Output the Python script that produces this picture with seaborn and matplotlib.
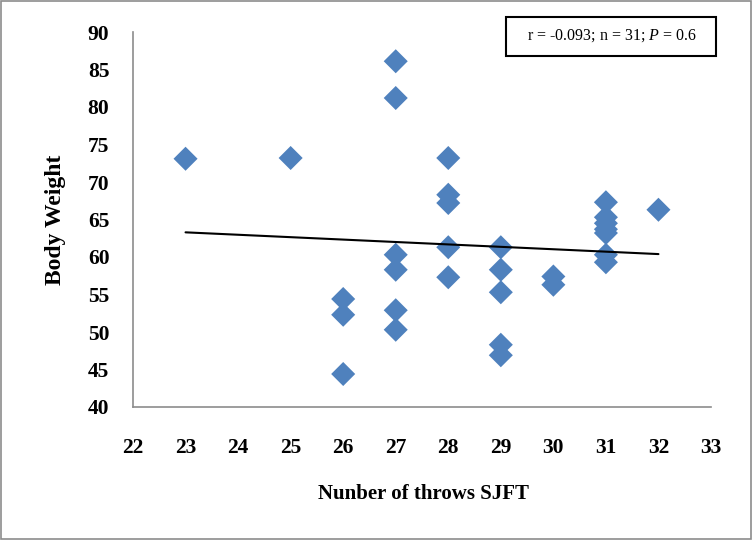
import numpy as np
import pandas as pd
import seaborn as sns
import matplotlib
matplotlib.use("Agg")
import matplotlib.pyplot as plt
from matplotlib.patches import Rectangle

throws = [23, 25,
          26, 26, 26,
          27, 27, 27, 27, 27, 27,
          28, 28, 28, 28, 28,
          29, 29, 29, 29, 29,
          30, 30,
          31, 31, 31, 31, 31, 31, 31,
          32]
weight = [73.1, 73.2,
          54.4, 52.3, 44.4,
          86.1, 81.2, 60.3, 58.3, 52.9, 50.3,
          73.2, 68.3, 67.2, 61.3, 57.3,
          61.3, 58.3, 55.3, 48.3, 46.9,
          57.4, 56.3,
          67.3, 65.3, 64.5, 63.7, 63.2, 60.3, 59.3,
          66.3]
x_ticks = list(range(22, 34))
y_ticks = list(range(40, 95, 5))
stats_text = r"r = -0.093; n = 31; $P$ = 0.6"

df = pd.DataFrame({"throws": throws, "weight": weight})

sns.set_style("white")
plt.rcParams["font.family"] = ["Liberation Serif", "DejaVu Serif"]
plt.rcParams["mathtext.fontset"] = "custom"
plt.rcParams["mathtext.rm"] = "Liberation Serif"
plt.rcParams["mathtext.it"] = "Liberation Serif:italic"
plt.rcParams["text.color"] = "black"
plt.rcParams["xtick.color"] = "black"
plt.rcParams["ytick.color"] = "black"

fig = plt.figure(figsize=(7.52, 5.4), dpi=100)
ax = fig.add_axes([133/752, 1-407/540, (711-133)/752, (407-32)/540])

sns.regplot(data=df, x="throws", y="weight", ax=ax, ci=None, truncate=True, marker="D",
            scatter_kws=dict(s=150, color="#4F81BD", edgecolors="none", linewidths=0,
                             alpha=1, zorder=2),
            line_kws=dict(color="black", lw=1.5, zorder=3))

ax.set_xlim(22, 33)
ax.set_ylim(40, 90)
ax.set_xticks(x_ticks)
ax.set_yticks(y_ticks)
ax.set_xticklabels([str(t) for t in x_ticks], fontsize=15.5, fontweight="bold", color="black")
ax.set_yticklabels([str(t) for t in y_ticks], fontsize=15.5, fontweight="bold", color="black")
ax.tick_params(axis="x", length=0, pad=22)
ax.tick_params(axis="y", length=0, pad=17)
for s in ["top", "right"]:
    ax.spines[s].set_visible(False)
for s in ["left", "bottom"]:
    ax.spines[s].set_color("#8c8c8c")
    ax.spines[s].set_linewidth(1.2)
ax.set_xlabel("")
ax.set_ylabel("")

fig.text(424/752, 1-494/540, "Nunber of throws SJFT", fontsize=15, fontweight="bold",
         ha="center", va="center", color="black")
fig.text(55/752, 1-220/540, "Body Weight", fontsize=17, fontweight="bold",
         ha="center", va="center", rotation=90, color="black")

# stats box
fig.patches.append(Rectangle((506/752, 1-56/540), (716-506)/752, (56-17)/540,
                             transform=fig.transFigure, fill=False, edgecolor="black", lw=1.5))
fig.text(612/752, 1-36/540, stats_text, fontsize=11.5, ha="center", va="center", color="black")

# outer border
fig.patches.append(Rectangle((1/752, 1/540), 750/752, 538/540, transform=fig.transFigure,
                             fill=False, edgecolor="#8c8c8c", lw=1.2))

fig.savefig("out.png", dpi=100)
